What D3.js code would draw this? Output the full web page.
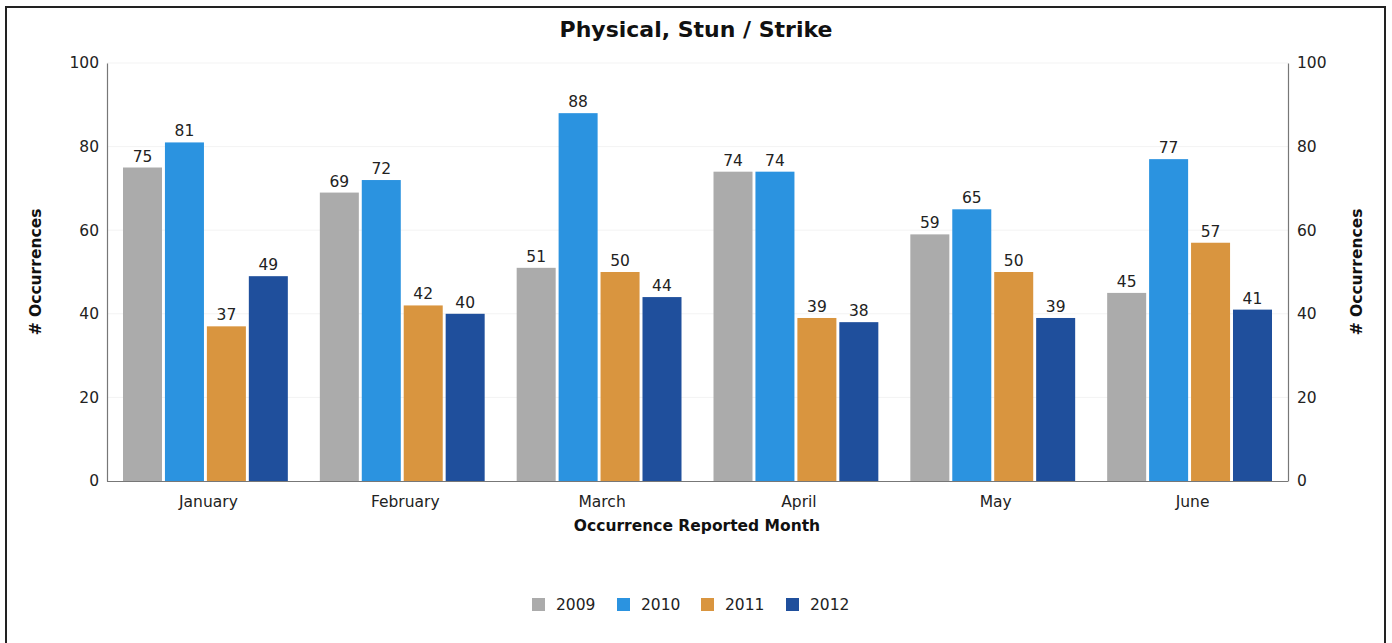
<!DOCTYPE html>
<html>
<head>
<meta charset="utf-8">
<script src="https://cdn.jsdelivr.net/npm/d3@7"></script>
<style>
  body { margin: 0; background: #fff; }
  svg { font-family: "DejaVu Sans", Verdana, sans-serif; }
</style>
</head>
<body>
<svg id="chart" width="1392" height="643"></svg>
<script>
const months = ['January', 'February', 'March', 'April', 'May', 'June'];
const years = ['2009', '2010', '2011', '2012'];
const values2009 = [75, 69, 51, 74, 59, 45];
const values2010 = [81, 72, 88, 74, 65, 77];
const values2011 = [37, 42, 50, 39, 50, 57];
const values2012 = [49, 40, 44, 38, 39, 41];
const yTicks = [0, 20, 40, 60, 80, 100];
const colors = ['#ababab', '#2b93e0', '#d9953f', '#1f4f9c'];

const series = [values2009, values2010, values2011, values2012];

const svg = d3.select('#chart');
const plotLeft = 107, plotRight = 1288, plotTop = 63, plotBottom = 481;

// outer frame
svg.append('rect')
    .attr('x', 6).attr('y', 7)
    .attr('width', 1379).attr('height', 660)
    .attr('fill', 'none')
    .attr('stroke', '#222')
    .attr('stroke-width', 2);

const x0 = d3.scaleBand().domain(months).range([plotLeft, plotRight]).padding(0);
const x1 = d3.scaleBand().domain(years).range([16, x0.bandwidth() - 16]).paddingInner(0.07);
const y = d3.scaleLinear().domain([0, 100]).range([plotBottom, plotTop]);

// faint grid
svg.append('g')
    .selectAll('line')
    .data(yTicks.slice(1))
    .enter().append('line')
    .attr('x1', plotLeft).attr('x2', plotRight)
    .attr('y1', d => y(d)).attr('y2', d => y(d))
    .attr('stroke', '#f3f3f3');

const groups = svg.append('g')
    .selectAll('g')
    .data(months)
    .enter().append('g')
    .attr('transform', m => `translate(${x0(m)},0)`);

const cells = (m, i) => series.map((s, k) => ({ year: years[k], value: s[i], k }));

groups.selectAll('rect')
    .data(cells)
    .enter().append('rect')
    .attr('x', d => x1(d.year))
    .attr('y', d => y(d.value))
    .attr('width', x1.bandwidth())
    .attr('height', d => plotBottom - y(d.value))
    .attr('fill', d => colors[d.k]);

groups.selectAll('text')
    .data(cells)
    .enter().append('text')
    .attr('x', d => x1(d.year) + x1.bandwidth() / 2)
    .attr('y', d => y(d.value) - 6)
    .attr('text-anchor', 'middle')
    .attr('font-size', 15.5)
    .attr('fill', '#222')
    .text(d => d.value);

// axes
const leftAxis = svg.append('g')
    .attr('transform', `translate(${plotLeft},0)`)
    .call(d3.axisLeft(y).tickValues(yTicks).tickSize(0).tickPadding(8));
const rightAxis = svg.append('g')
    .attr('transform', `translate(${plotRight},0)`)
    .call(d3.axisRight(y).tickValues(yTicks).tickSize(0).tickPadding(9));
const bottomAxis = svg.append('g')
    .attr('transform', `translate(0,${plotBottom})`)
    .call(d3.axisBottom(x0).tickSize(0).tickPadding(15));

[leftAxis, rightAxis, bottomAxis].forEach(a => {
    a.select('.domain').attr('stroke', '#777').attr('stroke-width', 1.2);
    a.selectAll('text').attr('font-size', 15.5).attr('fill', '#222')
        .attr('font-family', '"DejaVu Sans", Verdana, sans-serif');
});
bottomAxis.select('.domain').attr('d', `M${plotLeft},0.5H${plotRight}`);
bottomAxis.selectAll('.tick text').attr('dx', 3);

// titles
svg.append('text')
    .attr('x', 696).attr('y', 37)
    .attr('text-anchor', 'middle')
    .attr('font-size', 22).attr('font-weight', 'bold')
    .attr('fill', '#111')
    .text('Physical, Stun / Strike');

svg.append('text')
    .attr('x', 697).attr('y', 531)
    .attr('text-anchor', 'middle')
    .attr('font-size', 15.5).attr('font-weight', 'bold')
    .attr('fill', '#111')
    .text('Occurrence Reported Month');

[41, 1362].forEach(cx => {
    svg.append('text')
        .attr('transform', `translate(${cx},272) rotate(-90)`)
        .attr('text-anchor', 'middle')
        .attr('font-size', 15.5).attr('font-weight', 'bold')
        .attr('fill', '#111')
        .text('# Occurrences');
});

// legend
const legendX = [532, 617, 701, 786];
const legend = svg.append('g')
    .selectAll('g')
    .data(years)
    .enter().append('g')
    .attr('transform', (d, i) => `translate(${legendX[i]},598)`);
legend.append('rect')
    .attr('width', 13).attr('height', 13)
    .attr('fill', (d, i) => colors[i]);
legend.append('text')
    .attr('x', 24).attr('y', 12)
    .attr('font-size', 15.5)
    .attr('fill', '#222')
    .text(d => d);
</script>
</body>
</html>
